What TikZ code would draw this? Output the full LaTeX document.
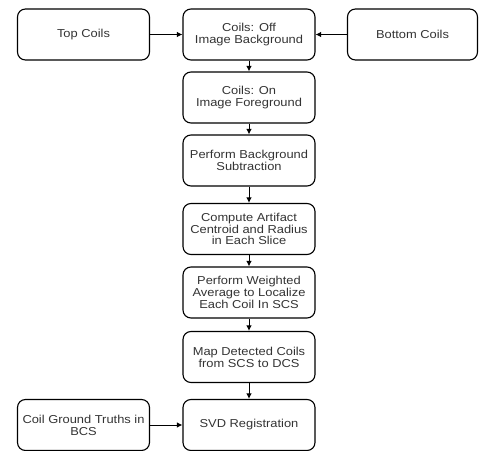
\documentclass[tikz,border=0pt]{standalone}
\usepackage{fontspec}
\setmainfont{Liberation Sans}[FakeStretch=1.12]
\usetikzlibrary{arrows.meta}
\definecolor{txt}{HTML}{333333}
\tikzset{
  stepbox/.style={draw=black, line width=1.1pt, rounded corners=8pt, minimum width=132pt, minimum height=51pt, align=center, text=txt, font=\fontsize{11.5pt}{11.8pt}\selectfont, inner sep=0pt},
  conn/.style={-{Latex[length=5.5pt,width=5.5pt]}, line width=1pt}
}
\begin{document}
\begin{tikzpicture}[x=1pt,y=1pt]
\useasboundingbox (0,0) rectangle (479,450);
\node[stepbox] (top) at (83.5,415.5) {Top Coils};
\node[stepbox] (off) at (249,415.5) {Coils: Off\\Image Background};
\node[stepbox, minimum width=130pt] (bot) at (412.5,415.5) {Bottom Coils};
\node[stepbox] (on) at (249,352.5) {Coils: On\\Image Foreground};
\node[stepbox] (sub) at (249,289.5) {Perform Background\\Subtraction};
\node[stepbox] (cen) at (249,221) {Compute Artifact\\Centroid and Radius\\in Each Slice};
\node[stepbox] (avg) at (249,157.5) {Perform Weighted\\Average to Localize\\Each Coil In SCS};
\node[stepbox] (map) at (249,93) {Map Detected Coils\\from SCS to DCS};
\node[stepbox] (svd) at (249,25) {SVD Registration};
\node[stepbox] (gt) at (83.5,25) {Coil Ground Truths in\\BCS};
\draw[conn] (top) -- (off);
\draw[conn] (bot) -- (off);
\draw[conn] (off) -- (on);
\draw[conn] (on) -- (sub);
\draw[conn] (sub) -- (cen);
\draw[conn] (cen) -- (avg);
\draw[conn] (avg) -- (map);
\draw[conn] (map) -- (svd);
\draw[conn] (gt) -- (svd);
\end{tikzpicture}
\end{document}
